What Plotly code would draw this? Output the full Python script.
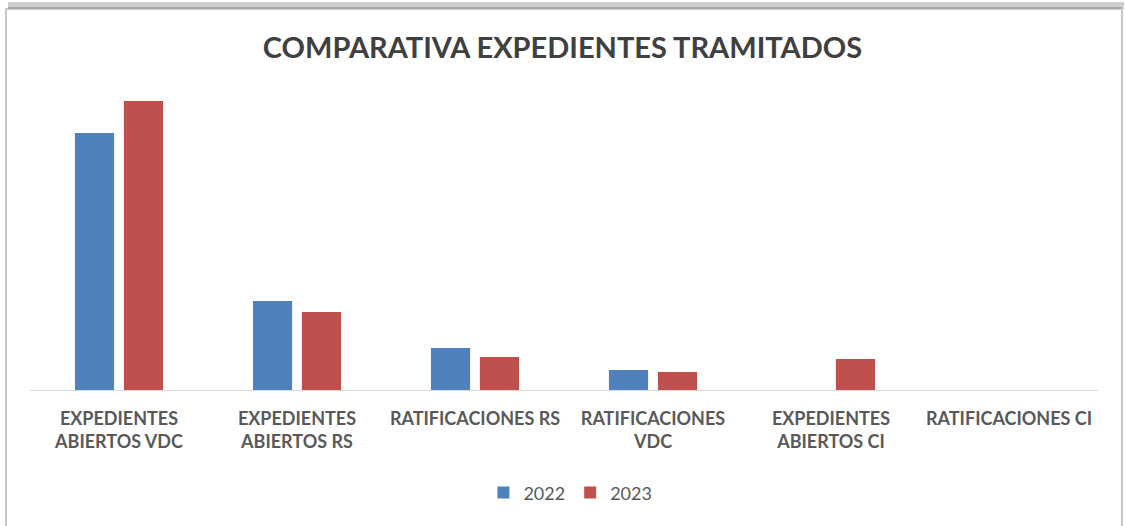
import plotly.graph_objects as go

# categorias y valores (escala relativa)
categorias = [
    "EXPEDIENTES<br>ABIERTOS VDC",
    "EXPEDIENTES<br>ABIERTOS RS",
    "RATIFICACIONES RS",
    "RATIFICACIONES<br>VDC",
    "EXPEDIENTES<br>ABIERTOS CI",
    "RATIFICACIONES CI",
]
valores_2022 = [257, 89, 42, 20, 0, 0]
valores_2023 = [289, 78, 33, 18, 31, 0]

azul = "#4F81BD"
rojo = "#C0504D"
gris_texto = "#595959"

fig = go.Figure()
fig.add_trace(go.Bar(x=categorias, y=valores_2022, name="2022",
                     marker=dict(color=azul, line=dict(width=0))))
fig.add_trace(go.Bar(x=categorias, y=valores_2023, name="2023",
                     marker=dict(color=rojo, line=dict(width=0))))

fig.update_layout(
    width=1125, height=526,
    margin=dict(l=30, r=27, t=90, b=136),
    paper_bgcolor="white", plot_bgcolor="white",
    barmode="group", bargap=0.45, bargroupgap=0.2,
    font=dict(family="Lato, Open Sans, sans-serif", color=gris_texto, size=18),
    title=dict(text="<b>COMPARATIVA EXPEDIENTES TRAMITADOS</b>",
               x=0.5, xanchor="center", y=1 - 48 / 526, yanchor="middle",
               font=dict(size=29, color="#404040")),
    legend=dict(orientation="h", x=0.506, xanchor="center",
                y=-0.343, yanchor="middle",
                font=dict(size=18, color=gris_texto), itemwidth=30),
    showlegend=True,
)

fig.update_xaxes(
    showline=True, linecolor="#D9D9D9", linewidth=1,
    showgrid=False, ticks="outside", ticklen=12,
    tickcolor="rgba(0,0,0,0)",
    tickfont=dict(size=18, color=gris_texto, family="Lato, sans-serif", weight="bold"),
)
fig.update_yaxes(range=[0, 300], visible=False, showgrid=False)

# marco del grafico con sombra superior
fig.add_shape(type="rect", xref="paper", yref="paper",
              x0=(6 - 30) / 1068, x1=(1122 - 30) / 1068,
              y0=(390 - 540) / 300, y1=(390 - 9) / 300,
              line=dict(color="#C8C8C8", width=2), fillcolor="rgba(0,0,0,0)",
              layer="below")
fig.add_shape(type="rect", xref="paper", yref="paper",
              x0=(8 - 30) / 1068, x1=(1124 - 30) / 1068,
              y0=(390 - 10) / 300, y1=(390 - 2) / 300,
              line=dict(width=0), fillcolor="#CFCFCF", layer="below")
fig.add_shape(type="line", xref="paper", yref="paper",
              x0=(8 - 30) / 1068, x1=(1122 - 30) / 1068,
              y0=(390 - 8) / 300, y1=(390 - 8) / 300,
              line=dict(color="#A8A8A8", width=2), layer="below")

fig.write_html("out.html", config={"displayModeBar": False},
               post_script="document.body.style.margin='0';")
